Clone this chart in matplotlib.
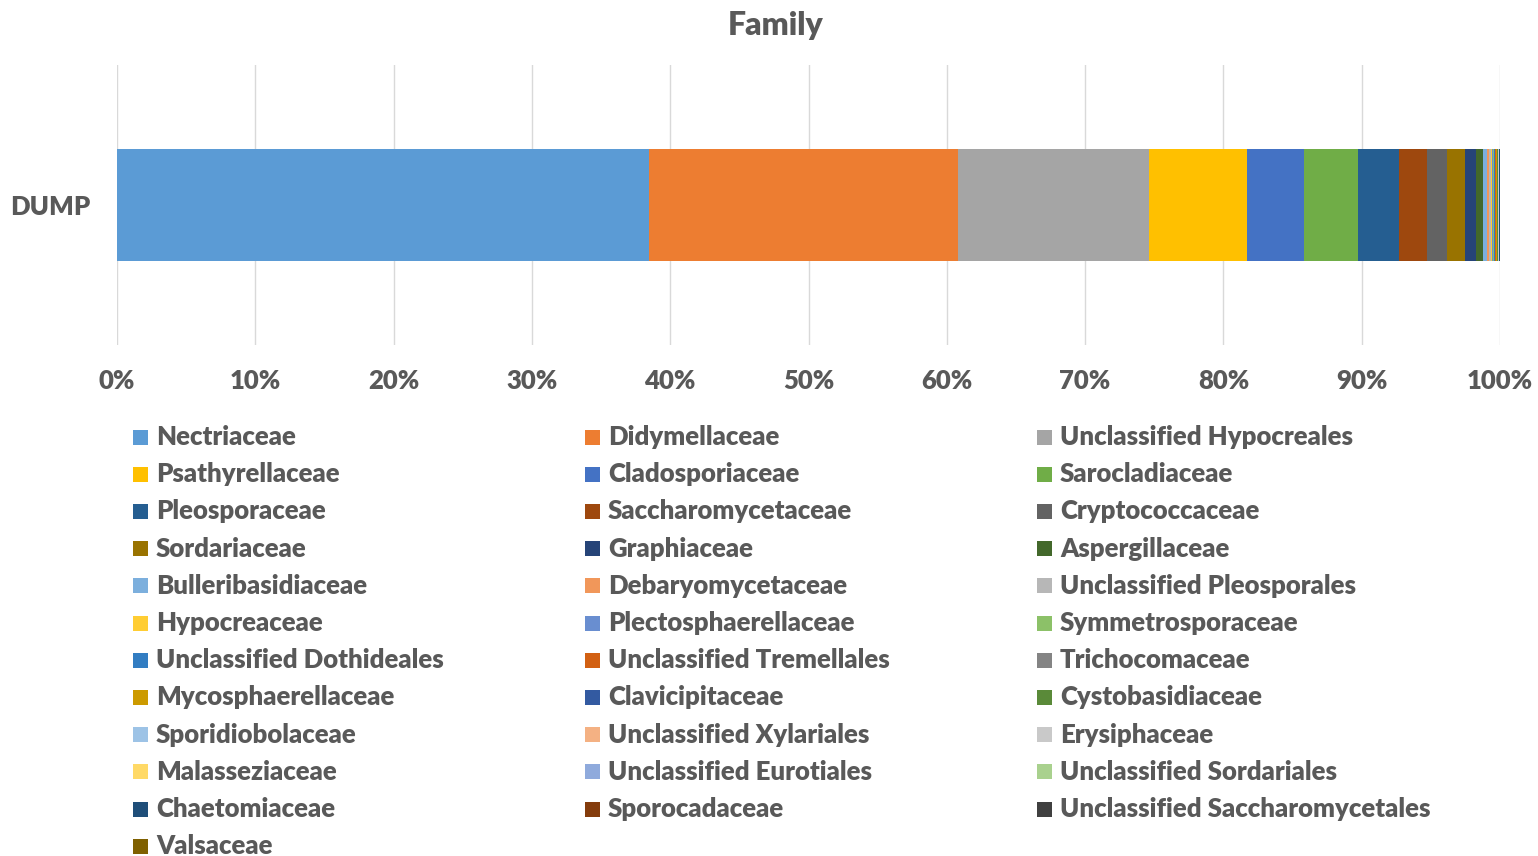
import matplotlib
matplotlib.use("Agg")
import matplotlib.pyplot as plt
from matplotlib.patches import Rectangle
from matplotlib.ticker import PercentFormatter

plt.rcParams['font.family'] = ['Lato', 'DejaVu Sans']

category = "DUMP"
families = [
    "Nectriaceae", "Didymellaceae", "Unclassified Hypocreales",
    "Psathyrellaceae", "Cladosporiaceae", "Sarocladiaceae",
    "Pleosporaceae", "Saccharomycetaceae", "Cryptococcaceae",
    "Sordariaceae", "Graphiaceae", "Aspergillaceae",
    "Bulleribasidiaceae", "Debaryomycetaceae", "Unclassified Pleosporales",
    "Hypocreaceae", "Plectosphaerellaceae", "Symmetrosporaceae",
    "Unclassified Dothideales", "Unclassified Tremellales", "Trichocomaceae",
    "Mycosphaerellaceae", "Clavicipitaceae", "Cystobasidiaceae",
    "Sporidiobolaceae", "Unclassified Xylariales", "Erysiphaceae",
    "Malasseziaceae", "Unclassified Eurotiales", "Unclassified Sordariales",
    "Chaetomiaceae", "Sporocadaceae", "Unclassified Saccharomycetales",
    "Valsaceae",
]
values = [
    38.47, 22.34, 13.81,
    7.09, 4.12, 3.92,
    2.99, 2.03, 1.40,
    1.30, 0.80, 0.52,
    0.30, 0.15, 0.12,
    0.10, 0.08, 0.07,
    0.06, 0.05, 0.04,
    0.04, 0.03, 0.03,
    0.03, 0.02, 0.02,
    0.02, 0.02, 0.01,
    0.01, 0.01, 0.01,
    0.01,
]
colors = [
    "#5B9BD5", "#ED7D31", "#A5A5A5", "#FFC000", "#4472C4", "#70AD47",
    "#255E91", "#9E480E", "#636363", "#997300", "#264478", "#43682B",
    "#7CAFDD", "#F1975A", "#B7B7B7", "#FFCD33", "#698ED0", "#8CC168",
    "#327DC2", "#D26012", "#848484", "#CC9A00", "#335AA1", "#5A8A39",
    "#9DC3E6", "#F4B183", "#C9C9C9", "#FFD966", "#8FAADC", "#A9D18E",
    "#1F4E79", "#843C0C", "#404040", "#7F6000",
]
xticks = [0, 0.1, 0.2, 0.3, 0.4, 0.5, 0.6, 0.7, 0.8, 0.9, 1.0]

TXT = "#595959"
W, H = 1538, 856
fig = plt.figure(figsize=(W / 100, H / 100), dpi=100)
ax = fig.add_axes([117 / W, 1 - 345 / H, (1500 - 117) / W, (345 - 65) / H])

total = sum(values)
left = 0.0
for name, v, c in zip(families, values, colors):
    frac = v / total
    ax.barh([category], [frac], left=left, height=0.4, color=c, edgecolor='none')
    left += frac

ax.set_xlim(0, 1)
ax.set_ylim(-0.5, 0.5)
ax.set_xticks(xticks)
ax.xaxis.set_major_formatter(PercentFormatter(1.0, decimals=0))
ax.grid(axis='x', color='#D9D9D9', linewidth=1)
ax.set_axisbelow(True)
for s in ax.spines.values():
    s.set_visible(False)
ax.tick_params(axis='x', length=0, labelsize=18.5, labelcolor=TXT, pad=17)
ax.tick_params(axis='y', length=0, labelsize=18.5, labelcolor=TXT, pad=19)
for lab in ax.get_xticklabels() + ax.get_yticklabels():
    lab.set_fontweight('heavy')

fig.text(776 / W, 1 - 25 / H, "Family", ha='center', va='center',
         fontsize=23, fontweight='heavy', color=TXT)

# legend, row-wise in three columns
col_x = [133, 585, 1037]
row_y0, row_dy = 437, 37.2
for i, (name, c) in enumerate(zip(families, colors)):
    r, k = divmod(i, 3)
    x = col_x[k]
    y = row_y0 + r * row_dy
    fig.patches.append(Rectangle((x / W, 1 - (y + 7.5) / H), 15 / W, 15 / H,
                                 transform=fig.transFigure, facecolor=c,
                                 edgecolor='none'))
    fig.text((x + 23) / W, 1 - y / H, name, ha='left', va='center',
             fontsize=18.5, fontweight='heavy', color=TXT)

fig.savefig("out.png", dpi=100)
